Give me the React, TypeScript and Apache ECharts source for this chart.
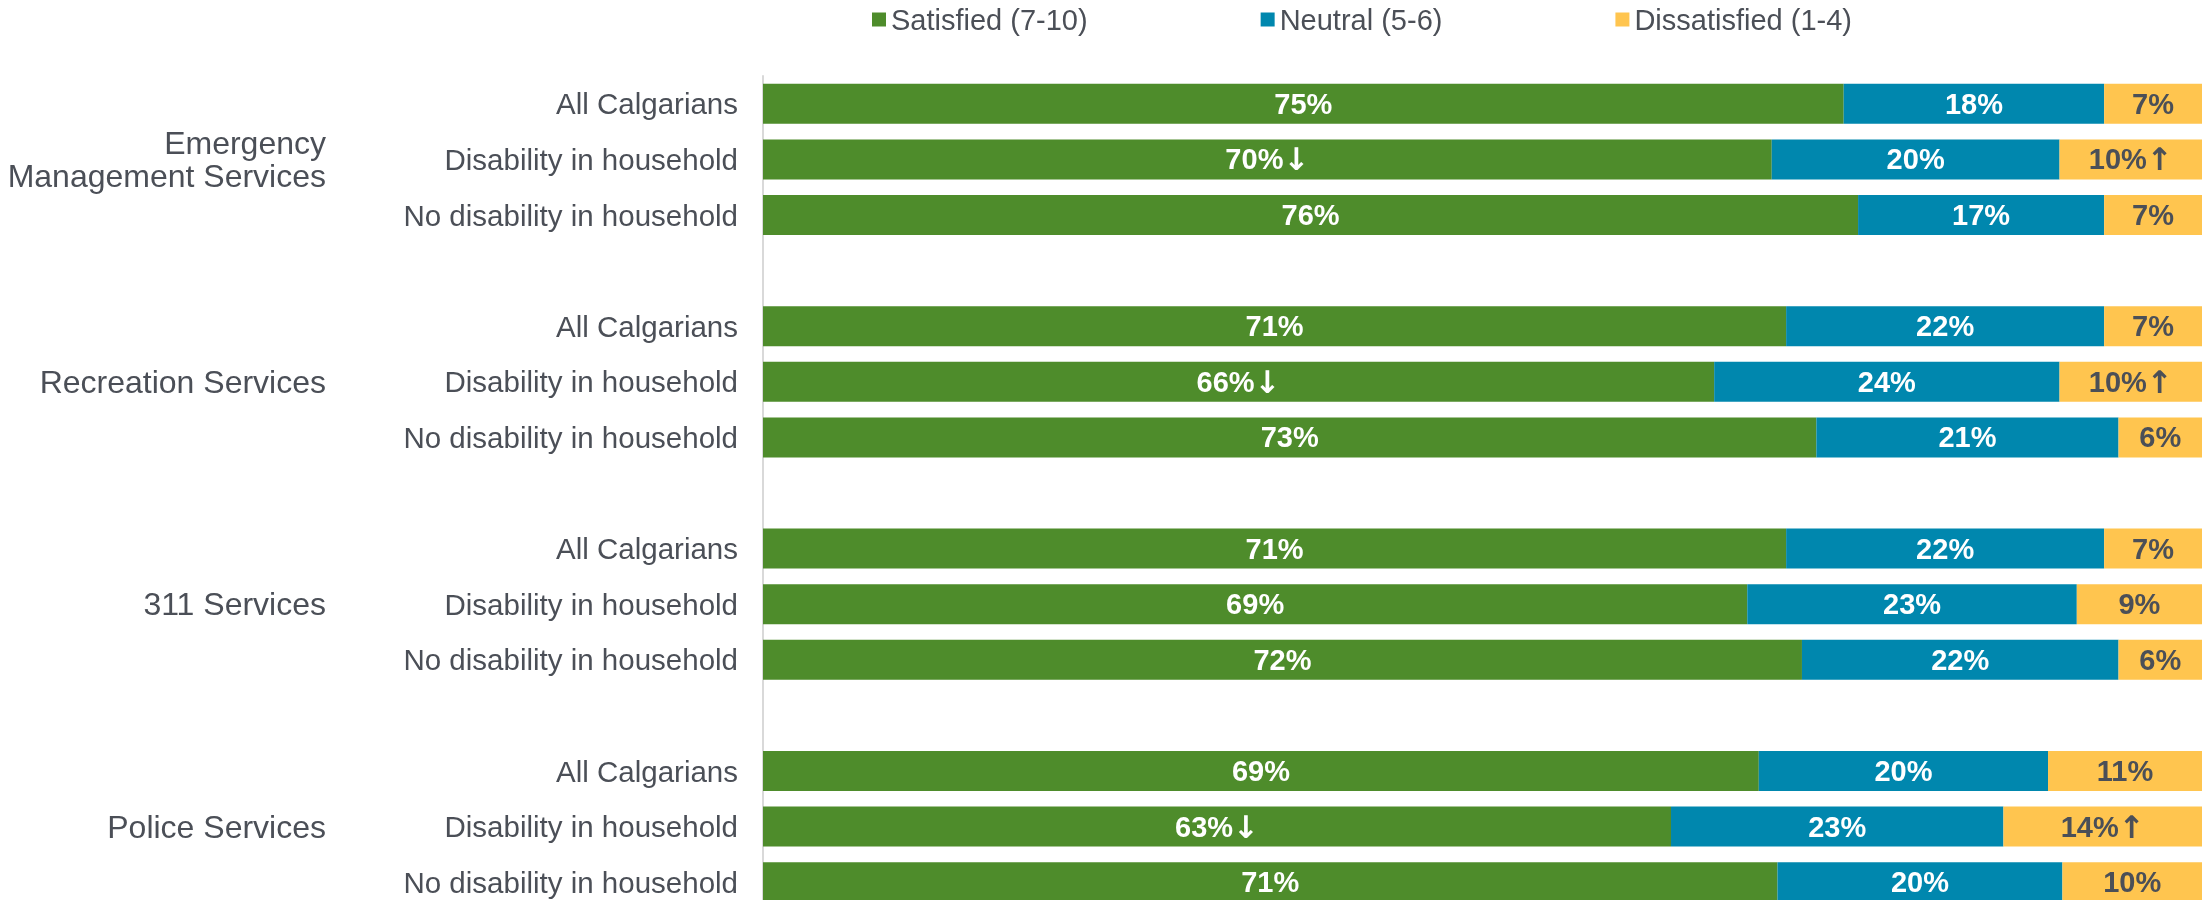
import React, { useEffect, useRef } from "react";
import * as echarts from "echarts";

const groupNames = ["Emergency\nManagement Services", "Recreation Services", "311 Services", "Police Services"];
const rowNames = ["All Calgarians", "Disability in household", "No disability in household"];
const seriesNames = ["Satisfied (7-10)", "Neutral (5-6)", "Dissatisfied (1-4)"];

// bar lengths (%), 12 rows (4 groups x 3 rows)
const satisfied = [75.1, 70.1, 76.1, 71.1, 66.1, 73.2, 71.1, 68.4, 72.2, 69.2, 63.1, 70.5];
const neutral = [18.1, 20.0, 17.1, 22.1, 24.0, 21.0, 22.1, 22.9, 22.0, 20.1, 23.1, 19.8];
const dissatisfied = [6.8, 9.9, 6.8, 6.8, 9.9, 5.8, 6.8, 8.7, 5.8, 10.7, 13.8, 9.7];

// printed labels (number part) and significance arrows
const satisfiedLabels = ["75%", "70%", "76%", "71%", "66%", "73%", "71%", "69%", "72%", "69%", "63%", "71%"];
const satisfiedArrows = ["", "↓", "", "", "↓", "", "", "", "", "", "↓", ""];
const neutralLabels = ["18%", "20%", "17%", "22%", "24%", "21%", "22%", "23%", "22%", "20%", "23%", "20%"];
const neutralArrows = ["", "", "", "", "", "", "", "", "", "", "", ""];
const dissatisfiedLabels = ["7%", "10%", "7%", "7%", "10%", "6%", "7%", "9%", "6%", "11%", "14%", "10%"];
const dissatisfiedArrows = ["", "↑", "", "", "↑", "", "", "", "", "", "↑", ""];

const colors = ["#4e8c2b", "#0087ae", "#ffc54f"];
const textColor = "#4b4f57";
const fontFamily = "'Liberation Sans', Arial, sans-serif";

function expand<T>(arr: T[], blank: T): T[] {
  const out: T[] = [];
  for (let g = 0; g < groupNames.length; g++) {
    for (let r = 0; r < rowNames.length; r++) out.push(arr[g * rowNames.length + r]);
    if (g < groupNames.length - 1) out.push(blank);
  }
  return out;
}

export default function App() {
  const ref = useRef<HTMLDivElement>(null);
  useEffect(() => {
    if (!ref.current) return;
    const chart = echarts.init(ref.current, null, { renderer: "svg" });
    const rowCats: string[] = [];
    const groupCats: string[] = [];
    for (let g = 0; g < groupNames.length; g++) {
      for (let r = 0; r < rowNames.length; r++) {
        rowCats.push(rowNames[r]);
        groupCats.push(r === 1 ? groupNames[g] : "");
      }
      if (g < groupNames.length - 1) {
        rowCats.push(" ");
        groupCats.push(" ");
      }
    }
    const vals = [satisfied, neutral, dissatisfied];
    const labs = [satisfiedLabels, neutralLabels, dissatisfiedLabels];
    const arrows = [satisfiedArrows, neutralArrows, dissatisfiedArrows];
    const labelColors = ["#ffffff", "#ffffff", textColor];

    const seriesData = vals.map((v, i) =>
      expand(
        v.map((value, k) => ({
          value,
          lab: labs[i][k],
          arrow: arrows[i][k],
        })) as any[],
        { value: null } as any
      )
    );

    chart.setOption({
      animation: false,
      legend: {
        data: seriesNames,
        left: 867,
        top: 0,
        icon: "rect",
        itemWidth: 14,
        itemHeight: 14,
        itemGap: 173,
        textStyle: { fontSize: 29, color: textColor, fontFamily },
      },
      grid: { left: 763, right: 0, top: 76, bottom: 8, containLabel: false },
      xAxis: { type: "value", min: 0, max: 100, show: false },
      yAxis: [
        {
          type: "category",
          data: rowCats,
          inverse: true,
          position: "left",
          axisLine: { show: true, lineStyle: { color: "#d9d9d9", width: 2 } },
          axisTick: { show: false },
          splitLine: { show: false },
          axisLabel: { fontSize: 29.5, color: textColor, fontFamily, margin: 25, interval: 0 },
        },
        {
          type: "category",
          data: groupCats,
          inverse: true,
          position: "left",
          offset: 407,
          axisLine: { show: false },
          axisTick: { show: false },
          splitLine: { show: false },
          axisLabel: { fontSize: 32, color: textColor, fontFamily, margin: 30, interval: 0, lineHeight: 33, align: "right" },
        },
      ],
      series: seriesNames.map((name, i) => ({
        name,
        type: "bar",
        stack: "total",
        yAxisIndex: 0,
        barWidth: 40,
        itemStyle: { color: colors[i] },
        data: seriesData[i],
        label: {
          show: true,
          position: "inside",
          fontSize: 29,
          fontWeight: "bold",
          fontFamily,
          color: labelColors[i],
          formatter: (p: any) => (p.data && p.data.lab ? p.data.lab + (p.data.arrow ? "{a|" + p.data.arrow + "}" : "") : ""),
          rich: {
            a: {
              fontFamily: "'DejaVu Sans', sans-serif",
              fontWeight: "bold",
              fontSize: 31,
              color: labelColors[i],
            },
          },
        },
      })),
    });
    return () => chart.dispose();
  }, []);
  return <div ref={ref} style={{ position: "fixed", left: 0, top: 0, width: 2202, height: 918 }} />;
}
